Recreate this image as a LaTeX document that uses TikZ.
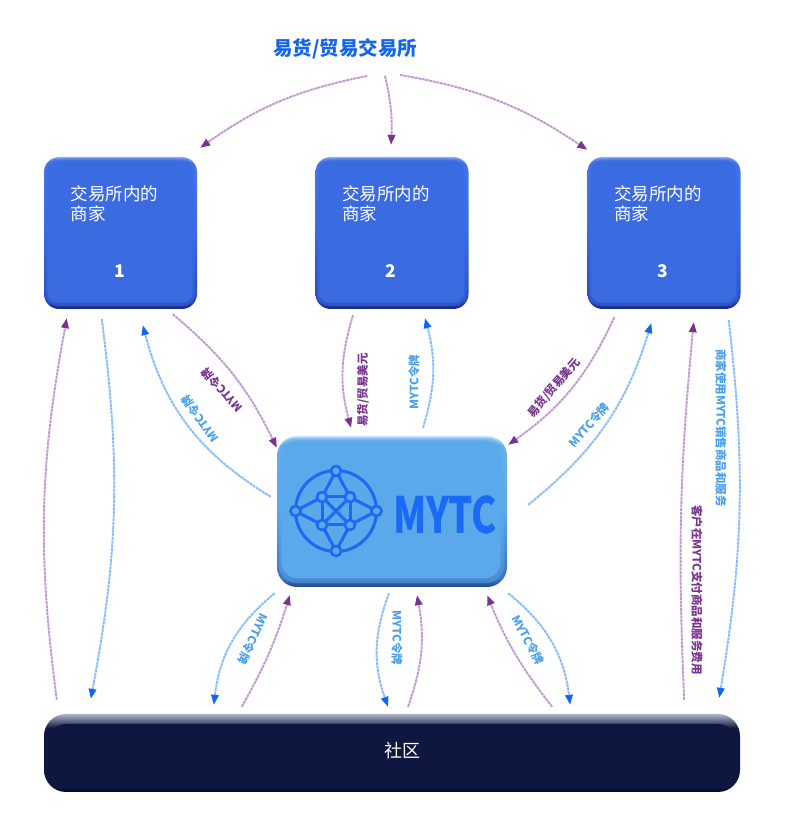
\documentclass[tikz,border=0pt]{standalone}
\usepackage{fontspec}
\newfontfamily\cjk{Noto Sans CJK SC}
\usetikzlibrary{arrows.meta}
\definecolor{bmain}{HTML}{3A6BE0}
\definecolor{bbot}{HTML}{17267E}
\definecolor{bmid}{HTML}{2A4ABC}
\definecolor{bupper}{HTML}{4A78E8}
\definecolor{btop}{HTML}{90AAF4}
\definecolor{mmain}{HTML}{5BA8EA}
\definecolor{mbot}{HTML}{244A8A}
\definecolor{mmid}{HTML}{3C74C4}
\definecolor{mupper}{HTML}{6AB0EE}
\definecolor{mtop}{HTML}{C6E2FB}
\definecolor{cmain}{HTML}{0E1740}
\definecolor{cdark}{HTML}{03061C}
\definecolor{cgray}{HTML}{B0B6CA}
\definecolor{plight}{HTML}{BE9AD0}
\definecolor{pdark}{HTML}{7B3393}
\definecolor{blight}{HTML}{88BCF7}
\definecolor{bdark}{HTML}{1466F2}
\definecolor{plabc}{HTML}{7A3391}
\definecolor{blabc}{HTML}{4AA0EC}
\definecolor{titleblue}{HTML}{1466E8}
\definecolor{logoblue}{HTML}{1A6AF5}
\pgfdeclareverticalshading{bsh}{100bp}{color(0bp)=(bbot); color(25bp)=(bbot); color(27.5bp)=(bmid); color(50bp)=(bmain); color(73bp)=(bupper); color(75bp)=(btop); color(100bp)=(btop)}
\pgfdeclareverticalshading{msh}{100bp}{color(0bp)=(mbot); color(25bp)=(mbot); color(28bp)=(mmid); color(50bp)=(mmain); color(72bp)=(mupper); color(75bp)=(mtop); color(100bp)=(mtop)}
\pgfdeclareverticalshading{csh}{100bp}{color(0bp)=(cdark); color(25bp)=(cdark); color(28bp)=(cmain); color(66bp)=(cmain); color(75bp)=(cgray); color(100bp)=(cgray)}
\begin{document}
\begin{tikzpicture}[x=1pt,y=1pt,
  bbox/.style={rectangle, rounded corners=15pt, minimum width=153pt, minimum height=152pt, inner sep=0pt, shading=bsh},
  btext/.style={anchor=north west, align=left, inner sep=0pt, text=white, font=\cjk\fontsize{17.5}{20}\selectfont},
  bnum/.style={inner sep=0pt, text=white, font=\cjk\bfseries\fontsize{17.5}{20}\selectfont},
  parr/.style={draw=plight, line width=1.9pt, dash pattern=on 3pt off 0.7pt, -{Triangle[length=10pt,width=7.5pt,color=pdark,fill=pdark]}},
  barr/.style={draw=blight, line width=1.9pt, dash pattern=on 3pt off 0.7pt, -{Triangle[length=10pt,width=7.5pt,color=bdark,fill=bdark]}},
  plab/.style={inner sep=0pt, text=plabc, font=\cjk\bfseries\fontsize{11.5}{12}\selectfont},
  blab/.style={inner sep=0pt, text=blabc, font=\cjk\bfseries\fontsize{11.5}{12}\selectfont},
  logoline/.style={draw=logoblue, line width=3pt},
  logodot/.style={circle, draw=logoblue, line width=2.6pt, fill=mmain, minimum size=10pt, inner sep=0pt}
]
\useasboundingbox (0,0) rectangle (786,821);
\fill[white] (0,0) rectangle (786,821);

% title
\node[inner sep=0pt, text=titleblue, font=\cjk\bfseries\fontsize{19.5}{20}\selectfont] (title) at (345,772) {易货/贸易交易所};

% merchant boxes
\foreach \n/\cx/\num in {b1/120.5/1, b2/392/2, b3/664/3}{
  \node[bbox] (\n) at (\cx,588) {};
  \fill[bmain, opacity=0.5, rounded corners=13pt] ([shift={(1.5,3)}]\n.south west) rectangle ([shift={(-2,-1.5)}]\n.north east);
  \fill[bmain, rounded corners=11pt] ([shift={(3.5,6.5)}]\n.south west) rectangle ([shift={(-4.5,-3.5)}]\n.north east);
  \node[btext] (\n t) at ([shift={(26.5,-29)}]\n.north west) {交易所内的\\商家};
  \node[bnum] (\n n) at ([shift={(-1,-38)}]\n.center) {\num};
}

% MYTC box
\node[rectangle, rounded corners=20pt, minimum width=230pt, minimum height=151pt, inner sep=0pt, shading=msh] (m) at (392,309.5) {};
\fill[mmain, opacity=0.5, rounded corners=18pt] ([shift={(2,4)}]m.south west) rectangle ([shift={(-3,-2)}]m.north east);
\fill[mmain, rounded corners=16pt] ([shift={(4.5,9)}]m.south west) rectangle ([shift={(-6.5,-4.5)}]m.north east);

% logo
\begin{scope}[shift={(336,310)}]
  \coordinate (lN) at (0,40); \coordinate (lS) at (0,-40);
  \coordinate (lW) at (-40.5,0); \coordinate (lE) at (40.5,0);
  \coordinate (lTL) at (-14,14); \coordinate (lTR) at (14,14);
  \coordinate (lBL) at (-14,-14); \coordinate (lBR) at (14,-14);
  \draw[logoline] (0,0) circle (40.5);
  \draw[logoline, line join=round] (lN) -- (lTL) -- (lW) -- (lBL) -- (lS) -- (lBR) -- (lE) -- (lTR) -- cycle;
  \draw[logoline, line join=round] (lTL) -- (lTR) -- (lBR) -- (lBL) -- cycle;
  \draw[logoline] (lTL) -- (lBR) (lTR) -- (lBL);
  \foreach \p in {lN,lS,lW,lE,lTL,lTR,lBL,lBR}{\node[logodot] at (\p) {};}
\end{scope}
\node[inner sep=0pt, text=logoblue, font=\cjk\bfseries\fontsize{50}{51}\selectfont] (mytct) at (445,306) {\scalebox{0.76}[1]{MYTC}};

% community box
\node[rectangle, rounded corners=22pt, minimum width=696pt, minimum height=78pt, inner sep=0pt, shading=csh] (c) at (392,68) {};
\fill[cmain, rounded corners=20pt] ([shift={(3,4)}]c.south west) rectangle ([shift={(-3,-10)}]c.north east);
\node[inner sep=0pt, text=white, font=\cjk\fontsize{18}{20}\selectfont] (ct) at (402,70) {社区};

% top arrows
\draw[parr] ([shift={(22,-27)}]title.center) to[bend right=12] ([shift={(3,9)}]b1.north east);
\draw[parr] ([shift={(40,-27)}]title.center) to[bend left=8] ([shift={(-1,12)}]b2.north);
\draw[parr] ([shift={(55,-26)}]title.center) to[bend left=12] ([shift={(0,7)}]b3.north west);

% left side
\draw[parr] ([shift={(13,14)}]c.north west) to[bend left=9] ([shift={(23,-9)}]b1.south west);
\draw[barr] ([shift={(58,-10)}]b1.south west) to[bend left=9] ([shift={(47,15)}]c.north west);

% box1 <-> MYTC
\draw[parr] ([shift={(129,-5)}]b1.south west) to[bend left=12] ([shift={(0,-12)}]m.north west);
\draw[barr] ([shift={(-6,-61)}]m.north west) to[bend left=22] ([shift={(99,-16)}]b1.south west);
\node[plab, rotate=132] (lp1) at (222,431) {MYTC令牌};
\node[blab, rotate=125.5] (lb1) at (200,402) {MYTC令牌};

% box2 <-> MYTC
\draw[parr] ([shift={(-39,-6)}]b2.south) to[bend right=16] ([shift={(-41,8)}]m.north);
\draw[barr] ([shift={(31,8)}]m.north) to[bend right=16] ([shift={(33,-9)}]b2.south);
\node[plab, rotate=90] (lp2) at (363,431) {易货/贸易美元};
\node[blab, rotate=90] (lb2) at (414,439) {MYTC令牌};

% box3 <-> MYTC
\draw[parr] ([shift={(27,-8)}]b3.south west) to[bend left=15] ([shift={(1,-9)}]m.north east);
\draw[barr] ([shift={(21,-69)}]m.north east) to[bend right=17] ([shift={(64,-14)}]b3.south west);
\node[plab, rotate=49.7] (lp3) at (554,433) {易货/贸易美元};
\node[blab, rotate=48.8] (lb3) at (589,396) {MYTC令牌};

% right side
\draw[parr] ([shift={(-56,14)}]c.north east) to[bend left=4] ([shift={(-47,-13)}]b3.south east);
\draw[barr] ([shift={(-12,-11)}]b3.south east) to[bend left=8] ([shift={(-21,16)}]c.north east);
\node[plab, rotate=-90] (lp4) at (697,231) {客户在MYTC支付商品和服务费用};
\node[blab, rotate=-90] (lb4) at (721,393) {商家使用MYTC销售商品和服务};

% MYTC <-> community
\draw[barr] ([shift={(-2,-6)}]m.south west) to[bend right=22] ([shift={(170,9)}]c.north west);
\draw[parr] ([shift={(198,7)}]c.north west) to[bend right=6] ([shift={(13,-8)}]m.south west);
\draw[barr] ([shift={(-3,-6)}]m.south) to[bend right=20] ([shift={(-4,7)}]c.north);
\draw[parr] ([shift={(16,7)}]c.north) to[bend right=15] ([shift={(25,-8)}]m.south);
\draw[parr] ([shift={(-188,7)}]c.north east) to[bend left=8] ([shift={(-20,-8)}]m.south east);
\draw[barr] ([shift={(1,-6)}]m.south east) to[bend left=22] ([shift={(-170,9)}]c.north east);
\node[blab, rotate=-115.6] (lb5) at (253,182) {MYTC令牌};
\node[blab, rotate=-90] (lb6) at (397,183) {MYTC令牌};
\node[blab, rotate=-61.5] (lb7) at (528,181) {MYTC令牌};
\end{tikzpicture}
\end{document}
